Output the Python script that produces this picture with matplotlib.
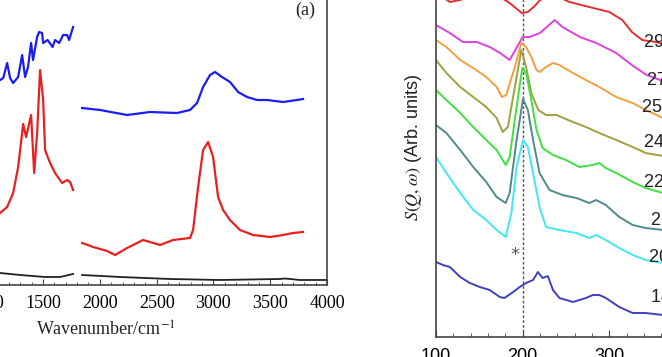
import numpy as np
import matplotlib.pyplot as plt
from matplotlib.ticker import MultipleLocator

plt.rcParams['mathtext.fontset'] = 'stix'

#left panel (a): raman spectra, two segments each (gap around 1800)
blue_lo_x = [1100, 1122, 1150, 1184, 1210, 1237, 1281, 1316, 1342, 1368, 1395, 1412, 1448, 1465, 1492, 1501, 1540, 1584, 1606, 1642, 1677, 1712, 1730, 1748, 1765]
blue_lo_y = [203, 205, 207, 222, 207, 202, 208, 230, 208, 218, 242, 225, 248, 253, 252, 242, 245, 238, 245, 242, 250, 250, 245, 252, 258]
blue_hi_x = [1844, 2002, 2240, 2442, 2680, 2794, 2856, 2909, 2970, 3014, 3076, 3146, 3217, 3296, 3384, 3472, 3613, 3736, 3789]
blue_hi_y = [177, 175, 170, 173, 172, 175, 182, 198, 210, 213, 208, 203, 193, 188, 185, 185, 183, 185, 186]

red_lo_x = [1100, 1122, 1184, 1237, 1281, 1325, 1351, 1395, 1422, 1448, 1474, 1501, 1518, 1562, 1606, 1668, 1712, 1738, 1765]
red_lo_y = [70, 72, 78, 92, 118, 161, 148, 170, 112, 152, 215, 185, 135, 122, 112, 102, 105, 103, 95]
red_hi_x = [1844, 1941, 2064, 2134, 2240, 2381, 2530, 2645, 2794, 2821, 2865, 2909, 2953, 2997, 3041, 3085, 3146, 3234, 3349, 3498, 3613, 3701, 3789]
red_hi_y = [42, 38, 34, 30, 37, 45, 40, 45, 47, 55, 98, 135, 143, 128, 88, 75, 65, 55, 50, 48, 50, 52, 53]

black_lo_x = [1100, 1122, 1298, 1518, 1650, 1765]
black_lo_y = [12, 12, 10, 8, 8, 11]
black_hi_x = [1844, 2178, 2618, 3058, 3586, 3630, 3762, 4000]
black_hi_y = [10, 8, 6, 5, 6, 6.5, 5, 5]

#right panel: S(Q,w) vs energy at several temperatures
temps = ['290 K', '270 K', '250 K', '240 K', '220 K', '210 K', '200 K', '140 K']
colors = ['#e03030', '#e040e0', '#f0a040', '#a0a040', '#40e040', '#508a8a', '#40e8f0', '#4040c0']

e_290 = [100, 116, 128, 150, 174, 185, 199, 206, 214, 220, 237, 254, 277, 300, 315, 326, 338, 354, 362]
s_290 = [345, 335, 337, 345, 340, 334, 324, 325, 331, 337, 342, 335, 330, 325, 317, 305, 297, 295, 293]
e_270 = [100, 116, 131, 147, 162, 174, 185, 200, 208, 220, 237, 246, 266, 285, 308, 326, 343, 362]
s_270 = [312, 304, 295, 295, 290, 284, 277, 300, 300, 304, 317, 310, 300, 294, 284, 272, 262, 256]
e_250 = [100, 112, 128, 143, 158, 170, 176, 181, 191, 198.5, 204, 210, 216, 219.5, 227, 235, 242.5, 258, 273, 288.5, 308, 327, 342, 362]
s_250 = [297, 290, 277, 269, 260, 250, 240, 242, 270, 294, 290, 280, 267, 265, 270, 274, 272, 264, 257, 250, 240, 234, 227, 219]
e_240 = [100, 112, 128, 143, 158, 170, 177, 183, 191, 198.5, 204, 210, 218, 227, 239, 258, 273, 288.5, 308, 327, 342, 362]
s_240 = [277, 264, 250, 240, 230, 219, 205, 210, 250, 287, 270, 244, 227, 222, 222, 215, 210, 204, 197, 190, 184, 181]
e_220 = [100, 112, 128, 143, 158, 170, 180.5, 185, 193, 199.6, 204, 210, 216, 223, 235, 250, 265.5, 281, 288.5, 296, 308, 327, 342, 362]
s_220 = [247, 237, 224, 210, 197, 187, 172, 180, 230, 269, 264, 237, 207, 189, 182, 177, 170, 172, 174, 169, 164, 155, 149, 144]
e_210 = [100, 112, 128, 143, 158, 170, 180.5, 185, 193, 200.4, 206, 212, 219.5, 231, 246, 262, 277, 284.7, 296, 311.5, 327, 342, 362]
s_210 = [212, 204, 187, 170, 155, 140, 134, 144, 197, 238, 227, 197, 164, 147, 142, 139, 134, 137, 132, 120, 112, 109, 107]
e_200 = [100, 112, 128, 143, 158, 170, 180.5, 187, 193, 200.4, 206, 212, 219.5, 227, 242.5, 262, 277, 284.7, 296, 311.5, 327, 342, 362]
s_200 = [180, 164, 144, 127, 117, 107, 100, 124, 170, 197, 190, 164, 130, 110, 107, 104, 99, 102, 97, 89, 82, 77, 74]
e_140 = [100, 108, 116, 128, 139, 150.6, 162, 173.6, 179, 189, 196.6, 204, 212, 217.6, 223, 229, 235, 242.5, 258, 273, 281, 288.5, 296, 311.5, 327, 342, 362]
s_140 = [75, 72, 70, 60, 54, 50, 47, 40, 39, 45, 50, 54, 57, 65, 59, 61, 47, 39, 35, 39, 42, 42, 39, 30, 24, 24, 22]

energies = [e_290, e_270, e_250, e_240, e_220, e_210, e_200, e_140]
spectra = [s_290, s_270, s_250, s_240, s_220, s_210, s_200, s_140]
label_x = [340, 343, 338, 340, 340, 348, 346, 348]
label_y = [295, 257, 230, 195, 155, 117, 80, 40]

fig = plt.figure(figsize=(6.62, 3.57), dpi=100)

#panel (a), sticks out past the left and top edge of the image
ax1 = fig.add_axes([-0.1066, 0.2017, 0.6006, 0.8543])
ax1.plot(blue_lo_x, blue_lo_y, color='#1c1cf0', lw=1.6)
ax1.plot(blue_hi_x, blue_hi_y, color='#1c1cf0', lw=1.6)
ax1.plot(red_lo_x, red_lo_y, color='#e82020', lw=1.6)
ax1.plot(red_hi_x, red_hi_y, color='#e82020', lw=1.6)
ax1.plot(black_lo_x, black_lo_y, color='#222222', lw=1.3)
ax1.plot(black_hi_x, black_hi_y, color='#222222', lw=1.3)
ax1.set_xlim(500, 4000)
ax1.set_ylim(0, 305)
ax1.xaxis.set_major_locator(MultipleLocator(500))
ax1.xaxis.set_minor_locator(MultipleLocator(100))
ax1.tick_params(axis='x', which='both', direction='in', pad=7, labelsize=13, color='#444444')
ax1.tick_params(axis='x', which='major', length=4)
ax1.tick_params(axis='x', which='minor', length=2.5)
ax1.set_yticks([])
for lab in ax1.get_xticklabels():
    lab.set_fontfamily('Liberation Serif')
for s in ['top', 'left']:
    ax1.spines[s].set_visible(False)
for s in ['bottom', 'right']:
    ax1.spines[s].set_color('#444444')
    ax1.spines[s].set_linewidth(1.2)
ax1.set_xlabel('Wavenumber/cm$^{-1}$', fontsize=13, family='Liberation Serif', color='#222222')
ax1.xaxis.set_label_coords(0.444, -0.118)
ax1.text(0.945, 0.902, '(a)', transform=ax1.transAxes, ha='center', va='center',
         fontsize=13, family='Liberation Serif', color='#222222')

#right panel, cut at the right edge
ax2 = fig.add_axes([0.6586, 0.056, 0.3927, 1.0])
ax2.axvline(200, color='#555555', lw=1, ls=(0, (2, 1.5)))
for e, s, c in zip(energies, spectra, colors):
    ax2.plot(e, s, color=c, lw=1.4)
for t, x, y in zip(temps, label_x, label_y):
    ax2.text(x, y, t, ha='left', va='center', fontsize=13, family='Liberation Sans', color='#222222')
ax2.text(191, 82, '*', ha='center', va='center', fontsize=13, color='#555555')
ax2.set_xlim(100, 400)
ax2.set_ylim(0, 357)
ax2.xaxis.set_major_locator(MultipleLocator(100))
ax2.xaxis.set_minor_locator(MultipleLocator(20))
ax2.tick_params(axis='x', which='both', direction='in', pad=8, labelsize=13, color='#444444')
ax2.tick_params(axis='x', which='major', length=5)
ax2.tick_params(axis='x', which='minor', length=3)
ax2.set_yticks([])
for lab in ax2.get_xticklabels():
    lab.set_fontfamily('Liberation Sans')
for s in ['top', 'right']:
    ax2.spines[s].set_visible(False)
for s in ['bottom', 'left']:
    ax2.spines[s].set_color('#444444')
    ax2.spines[s].set_linewidth(1.2)
ax2.set_ylabel(r'$S(Q,\omega)$ (Arb. units)', fontsize=13, family='Liberation Sans', color='#222222')
ax2.yaxis.set_label_coords(-0.046, 0.532)

fig.savefig('out.png', dpi=100)
